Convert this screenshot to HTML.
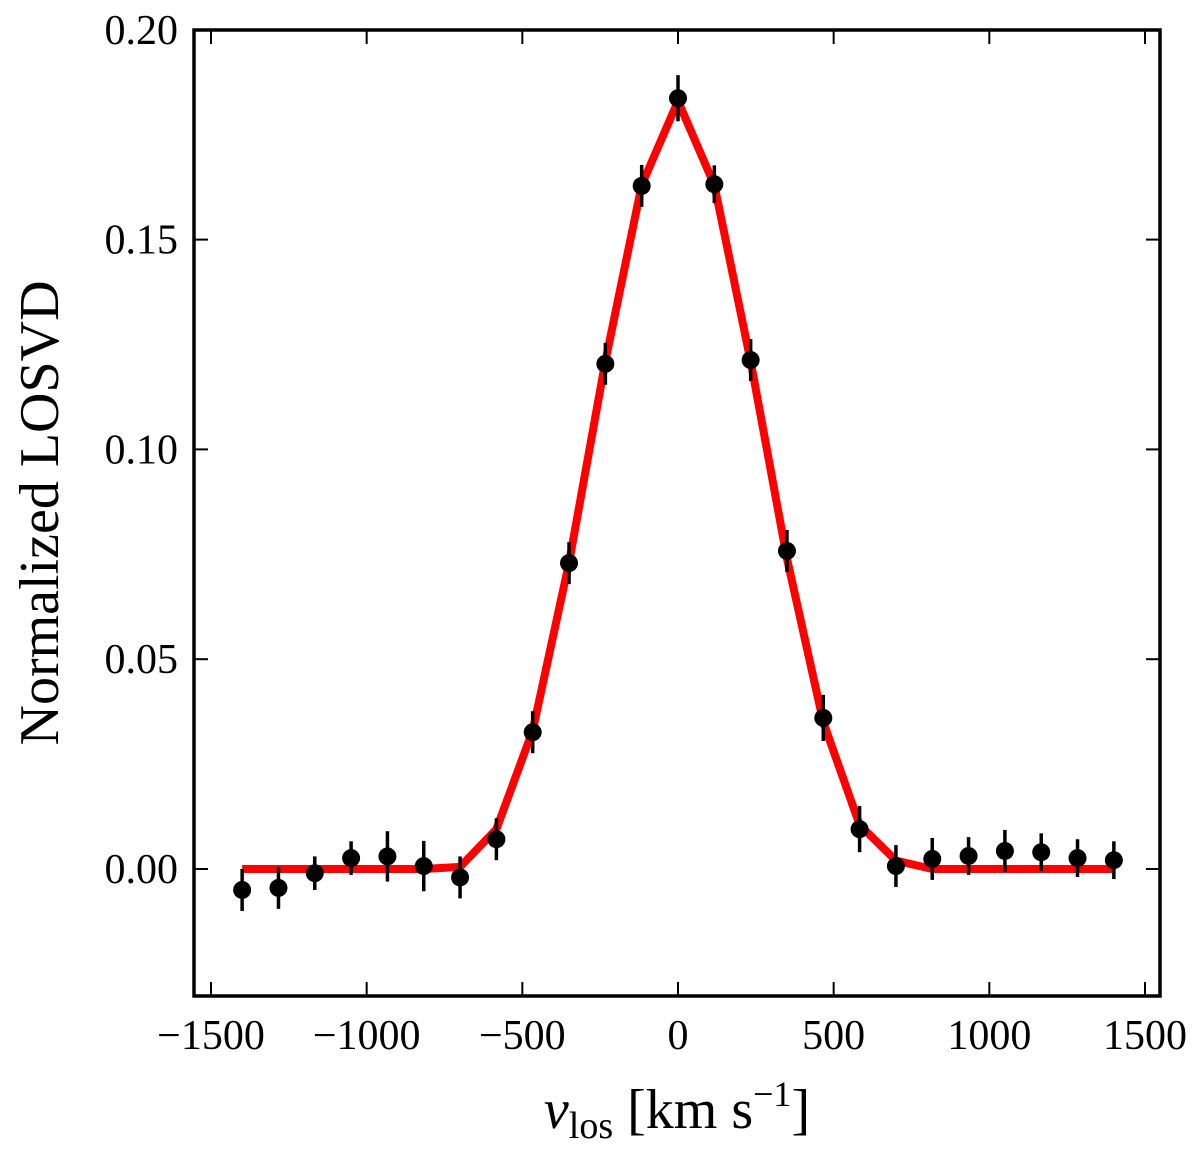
<!DOCTYPE html>
<html><head><meta charset="utf-8"><style>
body{margin:0;background:#fff}
svg text{font-family:"Liberation Serif",serif;fill:#000}
</style></head><body>
<svg id="chart" width="1200" height="1150" xmlns="http://www.w3.org/2000/svg">
<g id="plot"></g>
</svg>
<script>
const velocities=[-1400,-1283.3,-1166.7,-1050,-933.3,-816.7,-700,-583.3,-466.7,-350,-233.3,-116.7,0,116.7,233.3,350,466.7,583.3,700,816.7,933.3,1050,1166.7,1283.3,1400];
const losvdValues=[-0.005,-0.0045,-0.001,0.0026,0.003,0.0007,-0.002,0.0071,0.0326,0.0729,0.1204,0.1628,0.1837,0.1632,0.1213,0.0758,0.036,0.0095,0.0007,0.0024,0.0031,0.0043,0.004,0.0026,0.0021];
const losvdErrors=[0.005,0.005,0.004,0.004,0.006,0.006,0.005,0.005,0.005,0.005,0.005,0.005,0.0055,0.0045,0.005,0.005,0.0055,0.0055,0.005,0.005,0.0045,0.005,0.0045,0.0045,0.0045];
const modelValues=[0,0,0,0,0,0,0.0005,0.0095,0.033,0.073,0.121,0.163,0.183,0.163,0.121,0.074,0.035,0.0105,0.002,0,0,0,0,0,0];
const xTicks=[-1500,-1000,-500,0,500,1000,1500];
const xTickLabels=["\u22121500","\u22121000","\u2212500","0","500","1000","1500"];
const yTicks=[0,0.05,0.10,0.15,0.20];
const yTickLabels=["0.00","0.05","0.10","0.15","0.20"];

const L=194,R=1160,T=30,B=996;
const X=v=>678+(v*0.31133);
const Y=v=>869-v*4196;
const NS="http://www.w3.org/2000/svg";
const g=document.getElementById('plot');
function mk(t,a){const e=document.createElementNS(NS,t);for(const k in a)e.setAttribute(k,a[k]);g.appendChild(e);return e;}

let d=velocities.map((v,i)=>(i?'L':'M')+X(v)+','+Y(modelValues[i])).join(' ');
let ml=mk('path',{d:d,fill:'none',stroke:'#ff0000','stroke-width':8,'stroke-linejoin':'round'});



velocities.forEach((v,i)=>{
  const eb=mk('line',{x1:X(v),x2:X(v),y1:Y(losvdValues[i]-losvdErrors[i]),y2:Y(losvdValues[i]+losvdErrors[i]),stroke:'#000','stroke-width':3.5});
  
  
  const c=mk('circle',{cx:X(v),cy:Y(losvdValues[i]),r:9,fill:'#000'});
  
  
});

const fr=mk('rect',{x:L,y:T,width:R-L,height:B-T,fill:'none',stroke:'#000','stroke-width':3.5});



xTicks.forEach((t,i)=>{
  const x=X(t);
  mk('line',{x1:x,x2:x,y1:B,y2:B-14,stroke:'#000','stroke-width':2});
  mk('line',{x1:x,x2:x,y1:T,y2:T+14,stroke:'#000','stroke-width':2});
  const tx=mk('text',{x:x,y:B+53,'font-size':42,'text-anchor':'middle'});
  tx.textContent=xTickLabels[i];
  
  
});
yTicks.forEach((t,i)=>{
  const y=Y(t);
  mk('line',{x1:L,x2:L+14,y1:y,y2:y,stroke:'#000','stroke-width':2});
  mk('line',{x1:R,x2:R-14,y1:y,y2:y,stroke:'#000','stroke-width':2});
  const tx=mk('text',{x:L-16,y:y+14,'font-size':42,'text-anchor':'end'});
  tx.textContent=yTickLabels[i];
  
  
});

const xt=mk('text',{x:677,y:1128,'font-size':56,'text-anchor':'middle'});
xt.innerHTML='<tspan font-style="italic">v</tspan><tspan font-size="38" dy="10">los</tspan><tspan dy="-10"> [km s</tspan><tspan font-size="36" dy="-22">\u22121</tspan><tspan dy="22">]</tspan>';


const yt=mk('text',{x:58,y:513,'font-size':56,'text-anchor':'middle',transform:'rotate(-90 58 513)'});
yt.textContent='Normalized LOSVD';


</script>
</body></html>
